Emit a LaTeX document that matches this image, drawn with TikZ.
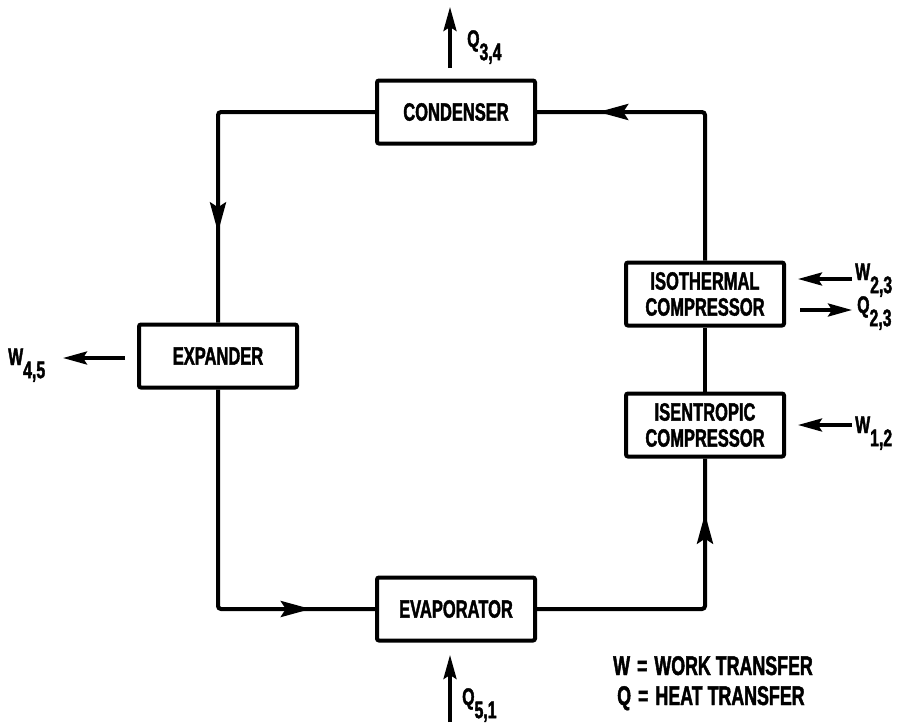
\documentclass[tikz,border=0pt]{standalone}
\usepackage{fontspec}
\newfontfamily\diagfont{Liberation Sans}[FakeStretch=0.66, FakeBold=1.6]
\usetikzlibrary{arrows.meta,decorations.markings}
\newcommand{\lbl}[2]{#1\raisebox{-0.55em}{#2}}

\begin{document}
\begin{tikzpicture}[x=1pt, y=-1pt,
  every node/.style={font={\diagfont\bfseries\fontsize{25}{26}\selectfont}},
  unit/.style={draw, line width=4pt, rounded corners=2pt, minimum width=158pt,
    minimum height=63pt, inner sep=0pt, align=center},
  flow/.style={line width=4pt, rounded corners=3pt},
  midarrow/.style={postaction={decorate}, decoration={markings,
    mark=at position #1 with {\arrow{Stealth[length=30pt,width=16pt,inset=5pt]}}}},
  xfer/.style={line width=3.5pt, -{Stealth[length=24pt,width=13pt,inset=4pt]}},
  tag/.style={anchor=base west, inner sep=0pt, font={\diagfont\bfseries\fontsize{24}{25}\selectfont}},
  key/.style={anchor=base west, inner sep=0pt, font={\diagfont\bfseries\fontsize{27}{28}\selectfont}}]
  \useasboundingbox (0,0) rectangle (914,726);

  % components
  \node[unit] (condenser) at (456,112) {CONDENSER};
  \node[unit] (expander) at (218,356) {EXPANDER};
  \node[unit] (evaporator) at (456,609) {EVAPORATOR};
  \node[unit] (isentropic) at (705,425) {ISENTROPIC\\COMPRESSOR};
  \node[unit] (isothermal) at (705,294) {ISOTHERMAL\\COMPRESSOR};

  % cycle
  \draw[flow, midarrow=276pt] (condenser.west) -| (expander.north);
  \draw[flow, midarrow=311pt] (expander.south) |- (evaporator.west);
  \draw[flow, midarrow=262pt] (evaporator.east) -| (isentropic.south);
  \draw[flow] (isentropic.north) -- (isothermal.south);
  \draw[flow, midarrow=254pt] (isothermal.north) |- (condenser.east);

  % heat and work
  \coordinate (q34a) at (450,68);
  \coordinate (q34b) at (450,7);
  \coordinate (q51a) at (450,722);
  \coordinate (q51b) at (450,655);
  \coordinate (w45a) at (125,358);
  \coordinate (w45b) at (63,358);
  \coordinate (w23a) at (852,279);
  \coordinate (w23b) at (798,279);
  \coordinate (q23a) at (800,310);
  \coordinate (q23b) at (852,310);
  \coordinate (w12a) at (852,425);
  \coordinate (w12b) at (798,425);
  \draw[xfer] (q34a) -- (q34b);
  \draw[xfer] (q51a) -- (q51b);
  \draw[xfer] (w45a) -- (w45b);
  \draw[xfer] (w23a) -- (w23b);
  \draw[xfer] (q23a) -- (q23b);
  \draw[xfer] (w12a) -- (w12b);

  \node[tag] (lq34) at (467,47) {\lbl{Q}{3,4}};
  \node[tag] (lq51) at (462,705) {\lbl{Q}{5,1}};
  \node[tag] (lw45) at (8,365) {\lbl{W}{4,5}};
  \node[tag] (lw23) at (855,280) {\lbl{W}{2,3}};
  \node[tag] (lq23) at (857,313) {\lbl{Q}{2,3}};
  \node[tag] (lw12) at (855,433) {\lbl{W}{1,2}};

  % legend
  \node[key] (keyw) at (613,675) {W\hspace{7pt}=\hspace{7pt}WORK TRANSFER};
  \node[key] (keyq) at (617,705) {Q\hspace{7pt}=\hspace{7pt}HEAT TRANSFER};
\end{tikzpicture}
\end{document}
